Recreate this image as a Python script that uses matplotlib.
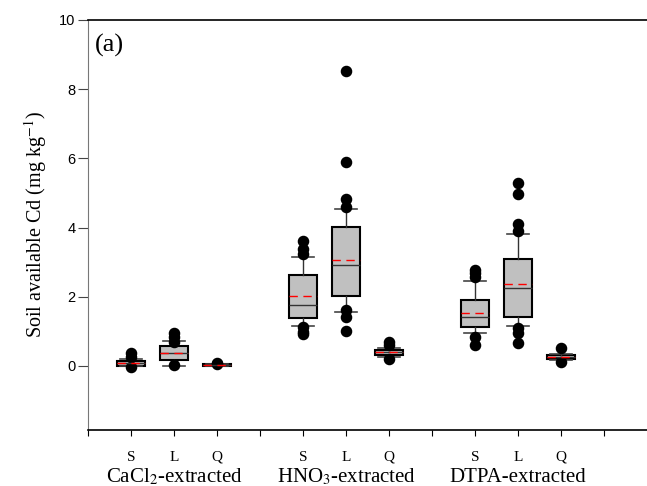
import matplotlib
matplotlib.use("Agg")
import matplotlib.pyplot as plt
import matplotlib.transforms as mtransforms

# box statistics (mg/kg), order: CaCl2 S L Q, HNO3 S L Q, DTPA S L Q
positions = [1, 2, 3, 5, 6, 7, 9, 10, 11]
q1 = [0.01, 0.16, 0.01, 1.40, 2.01, 0.33, 1.12, 1.42, 0.19]
med = [0.08, 0.38, 0.03, 1.75, 2.92, 0.40, 1.41, 2.25, 0.26]
q3 = [0.14, 0.59, 0.05, 2.63, 4.03, 0.46, 1.91, 3.09, 0.32]
mean = [0.09, 0.38, 0.03, 2.01, 3.06, 0.40, 1.52, 2.37, 0.26]
whislo = [0.01, 0.01, 0.0, 1.17, 1.57, 0.27, 0.94, 1.15, 0.16]
whishi = [0.19, 0.71, 0.07, 3.16, 4.53, 0.51, 2.45, 3.82, 0.36]
fliers = [
    [0.27, 0.37, -0.02],
    [0.70, 0.85, 0.94, 0.03],
    [0.07, 0.10],
    [3.24, 3.37, 3.62, 1.14, 0.99, 0.92],
    [4.60, 4.82, 5.90, 8.53, 1.62, 1.43, 1.01],
    [0.61, 0.70, 0.20],
    [2.58, 2.68, 2.77, 0.85, 0.61],
    [3.91, 4.10, 4.96, 5.30, 1.09, 0.94, 0.67],
    [0.51, 0.12],
]
sub_labels = ["S", "L", "Q"] * 3
groups = ["CaCl$_2$-extracted", "HNO$_3$-extracted", "DTPA-extracted"]
group_centers = [2, 6, 10]

plt.rcParams["mathtext.fontset"] = "stix"

fig = plt.figure(figsize=(6.47, 4.86), dpi=100)
ax = fig.add_axes([88 / 647, 56 / 486, 559 / 647, 410 / 486])

stats = []
for i in range(len(positions)):
    stats.append({"q1": q1[i], "med": med[i], "q3": q3[i], "mean": mean[i],
                  "whislo": whislo[i], "whishi": whishi[i], "fliers": fliers[i]})

ax.bxp(stats, positions=positions, widths=0.64, patch_artist=True,
       showmeans=True, meanline=True, capwidths=0.52,
       boxprops=dict(facecolor="#c0c0c0", edgecolor="black", linewidth=1.5),
       medianprops=dict(color="#333333", linewidth=1.0),
       meanprops=dict(color="red", linestyle=(0, (6, 4)), linewidth=1.0),
       whiskerprops=dict(color="#333333", linewidth=1.0),
       capprops=dict(color="#444444", linewidth=1.2),
       flierprops=dict(marker="o", markerfacecolor="black", markeredgecolor="black",
                       markersize=7.3))

ax.set_xlim(0, 13)
ax.set_ylim(-1.85, 10)
ax.set_yticks([0, 2, 4, 6, 8, 10])
ax.set_yticklabels(["0", "2", "4", "6", "8", "10"], fontfamily="Liberation Sans", fontsize=10.5)

ticks = list(range(13))
ax.set_xticks(ticks)
lab = [""] * 13
for p, s in zip(positions, sub_labels):
    lab[p] = s
ax.set_xticklabels(lab, fontfamily="Liberation Serif", fontsize=11)
ax.tick_params(axis="x", direction="out", length=4, pad=11)
ax.tick_params(axis="y", direction="out", length=7, pad=2, colors="#444444", labelcolor="black")

ax.spines["right"].set_visible(False)
ax.spines["left"].set_color("#777777")
ax.spines["bottom"].set_linewidth(1.2)
ax.spines["top"].set_linewidth(1.2)

trans = mtransforms.blended_transform_factory(ax.transData, fig.transFigure)
for g, c in zip(groups, group_centers):
    ax.text(c, 1 - 477 / 486, g, transform=trans, ha="center", va="center",
            fontfamily="Liberation Serif", fontsize=15)

ax.text(0.17, 9.25, "(a)", fontfamily="Liberation Serif", fontsize=19, va="center")
ax.set_ylabel("Soil available Cd (mg kg$^{-1}$)", fontfamily="Liberation Serif",
              fontsize=14.5, labelpad=7)

fig.savefig("out.png", dpi=100)
